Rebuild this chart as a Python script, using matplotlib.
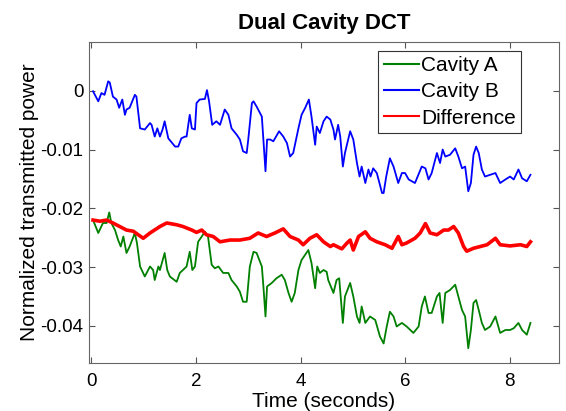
import matplotlib
matplotlib.use('Agg')
import matplotlib.pyplot as plt

plt.rcParams['font.family'] = ['Liberation Sans', 'DejaVu Sans']
plt.rcParams['axes.unicode_minus'] = False

# Cavity A (green)
t_a = [0.03, 0.13, 0.22, 0.29, 0.34, 0.38, 0.45, 0.51, 0.56, 0.61, 0.67, 0.73, 0.83, 0.87,
       0.93, 1.02, 1.12, 1.18, 1.21, 1.28, 1.31, 1.40, 1.45, 1.50, 1.63, 1.69, 1.75, 1.82,
       1.88, 1.93, 1.98, 2.04, 2.11, 2.17, 2.23, 2.30, 2.36, 2.43, 2.52, 2.62, 2.68, 2.78,
       2.84, 2.90, 2.97, 3.03, 3.10, 3.16, 3.26, 3.29, 3.33, 3.36, 3.45, 3.54, 3.64, 3.70,
       3.77, 3.83, 3.89, 3.96, 4.02, 4.15, 4.21, 4.28, 4.32, 4.37, 4.44, 4.50, 4.53, 4.63,
       4.69, 4.74, 4.81, 4.85, 4.95, 5.01, 5.08, 5.13, 5.17, 5.24, 5.33, 5.43, 5.52, 5.59,
       5.65, 5.71, 5.78, 5.84, 5.94, 6.03, 6.16, 6.26, 6.32, 6.38, 6.45, 6.51, 6.61, 6.66,
       6.72, 6.77, 6.86, 6.96, 7.02, 7.09, 7.15, 7.21, 7.26, 7.31, 7.36, 7.41, 7.47, 7.53,
       7.63, 7.73, 7.82, 7.92, 8.01, 8.08, 8.17, 8.24, 8.33, 8.40]
cav_a = [-0.0220, -0.0242, -0.0225, -0.0225, -0.0207, -0.0225, -0.0237, -0.0254, -0.0265,
         -0.0248, -0.0276, -0.0265, -0.0242, -0.0259, -0.0299, -0.0316, -0.0299, -0.0305,
         -0.0322, -0.0299, -0.0305, -0.0276, -0.0305, -0.0316, -0.0325, -0.0310, -0.0305,
         -0.0299, -0.0274, -0.0305, -0.0299, -0.0257, -0.0248, -0.0240, -0.0248, -0.0296,
         -0.0302, -0.0299, -0.0310, -0.0310, -0.0322, -0.0333, -0.0342, -0.0359, -0.0359,
         -0.0299, -0.0274, -0.0276, -0.0299, -0.0333, -0.0384, -0.0333, -0.0327, -0.0319,
         -0.0313, -0.0322, -0.0344, -0.0359, -0.0344, -0.0305, -0.0288, -0.0271, -0.0293,
         -0.0336, -0.0299, -0.0310, -0.0305, -0.0308, -0.0322, -0.0344, -0.0322, -0.0319,
         -0.0395, -0.0350, -0.0327, -0.0350, -0.0384, -0.0395, -0.0367, -0.0395, -0.0384,
         -0.0390, -0.0418, -0.0430, -0.0401, -0.0376, -0.0384, -0.0401, -0.0395, -0.0401,
         -0.0412, -0.0401, -0.0367, -0.0350, -0.0378, -0.0378, -0.0350, -0.0344, -0.0395,
         -0.0344, -0.0339, -0.0330, -0.0350, -0.0373, -0.0384, -0.0438, -0.0407, -0.0361,
         -0.0356, -0.0373, -0.0395, -0.0407, -0.0401, -0.0384, -0.0412, -0.0407, -0.0407,
         -0.0404, -0.0395, -0.0407, -0.0415, -0.0395]

# Cavity B (blue)
t_b = [0.03, 0.13, 0.19, 0.25, 0.32, 0.35, 0.41, 0.48, 0.53, 0.59, 0.64, 0.67, 0.73, 0.83,
       0.86, 0.93, 1.02, 1.12, 1.15, 1.21, 1.26, 1.31, 1.36, 1.40, 1.47, 1.60, 1.66, 1.72,
       1.79, 1.82, 1.88, 1.92, 1.98, 2.01, 2.07, 2.17, 2.21, 2.25, 2.31, 2.39, 2.46, 2.55,
       2.62, 2.68, 2.78, 2.84, 2.90, 2.97, 3.00, 3.07, 3.10, 3.16, 3.26, 3.29, 3.33, 3.36,
       3.42, 3.48, 3.59, 3.67, 3.74, 3.80, 3.86, 3.96, 4.02, 4.09, 4.16, 4.21, 4.28, 4.31,
       4.37, 4.44, 4.50, 4.57, 4.63, 4.66, 4.72, 4.76, 4.81, 4.85, 4.95, 5.01, 5.08, 5.13,
       5.17, 5.24, 5.30, 5.34, 5.39, 5.46, 5.56, 5.59, 5.64, 5.71, 5.78, 5.87, 5.94, 6.00,
       6.07, 6.19, 6.32, 6.39, 6.45, 6.51, 6.61, 6.67, 6.72, 6.77, 6.86, 6.96, 7.02, 7.09,
       7.15, 7.21, 7.26, 7.31, 7.36, 7.41, 7.47, 7.53, 7.63, 7.73, 7.82, 7.92, 8.01, 8.08,
       8.17, 8.24, 8.33, 8.40]
cav_b = [-0.0001, -0.0018, -0.0004, -0.0007, 0.0016, 0.0014, -0.0010, -0.0015, -0.0029,
         -0.0015, -0.0041, -0.0032, -0.0029, -0.0007, -0.0010, -0.0064, -0.0066, -0.0055,
         -0.0058, -0.0078, -0.0064, -0.0078, -0.0066, -0.0052, -0.0081, -0.0095, -0.0095,
         -0.0081, -0.0078, -0.0078, -0.0041, -0.0064, -0.0066, -0.0021, -0.0015, -0.0014,
         0.0001, -0.0018, -0.0058, -0.0052, -0.0058, -0.0032, -0.0041, -0.0064, -0.0075,
         -0.0083, -0.0103, -0.0106, -0.0083, -0.0021, -0.0018, -0.0027, -0.0044, -0.0083,
         -0.0137, -0.0083, -0.0083, -0.0086, -0.0069, -0.0078, -0.0089, -0.0112, -0.0106,
         -0.0064, -0.0041, -0.0029, -0.0015, -0.0044, -0.0092, -0.0061, -0.0072, -0.0052,
         -0.0044, -0.0049, -0.0066, -0.0083, -0.0058, -0.0078, -0.0129, -0.0106, -0.0069,
         -0.0083, -0.0123, -0.0146, -0.0129, -0.0157, -0.0134, -0.0146, -0.0132, -0.0140,
         -0.0174, -0.0174, -0.0146, -0.0115, -0.0129, -0.0157, -0.0140, -0.0140, -0.0151,
         -0.0157, -0.0129, -0.0132, -0.0151, -0.0140, -0.0106, -0.0123, -0.0100, -0.0112,
         -0.0109, -0.0098, -0.0112, -0.0132, -0.0129, -0.0171, -0.0157, -0.0109, -0.0095,
         -0.0106, -0.0134, -0.0146, -0.0143, -0.0140, -0.0157, -0.0151, -0.0146, -0.0151,
         -0.0134, -0.0149, -0.0154, -0.0143]

# Difference (red)
t_d = [0.03, 0.16, 0.29, 0.41, 0.54, 0.67, 0.80, 0.99, 1.12, 1.31, 1.44, 1.63, 1.75, 1.92,
       2.01, 2.11, 2.20, 2.33, 2.46, 2.65, 2.84, 3.03, 3.19, 3.35, 3.51, 3.67, 3.80, 3.96,
       4.05, 4.18, 4.31, 4.44, 4.57, 4.63, 4.79, 4.89, 4.95, 5.01, 5.11, 5.24, 5.33, 5.46,
       5.62, 5.75, 5.87, 5.94, 6.03, 6.19, 6.29, 6.39, 6.48, 6.61, 6.74, 6.83, 6.93, 7.02,
       7.12, 7.18, 7.31, 7.44, 7.57, 7.73, 7.82, 8.01, 8.21, 8.33, 8.40]
diff = [-0.0220, -0.0222, -0.0220, -0.0225, -0.0231, -0.0237, -0.0239, -0.0251, -0.0242,
        -0.0231, -0.0225, -0.0228, -0.0231, -0.0237, -0.0241, -0.0237, -0.0245, -0.0248,
        -0.0257, -0.0254, -0.0254, -0.0251, -0.0242, -0.0248, -0.0242, -0.0235, -0.0248,
        -0.0254, -0.0262, -0.0251, -0.0245, -0.0257, -0.0265, -0.0262, -0.0269, -0.0259,
        -0.0254, -0.0271, -0.0248, -0.0240, -0.0251, -0.0257, -0.0262, -0.0268, -0.0248,
        -0.0262, -0.0259, -0.0251, -0.0242, -0.0226, -0.0242, -0.0245, -0.0237, -0.0237,
        -0.0231, -0.0242, -0.0265, -0.0273, -0.0268, -0.0265, -0.0262, -0.0251, -0.0262,
        -0.0264, -0.0262, -0.0265, -0.0257]

xticks = [0, 2, 4, 6, 8]
yticks = [0, -0.01, -0.02, -0.03, -0.04]
ytick_labels = ['0', '-0.01', '-0.02', '-0.03', '-0.04']

fig = plt.figure(figsize=(5.66, 4.11), dpi=100)
ax = fig.add_axes([0.157, 0.117, 0.831, 0.781])

ax.plot(t_a, cav_a, color=(0, 0.5, 0), lw=1.3, label='Cavity A')
ax.plot(t_b, cav_b, color=(0, 0, 1), lw=1.3, label='Cavity B')
ax.plot(t_d, diff, color=(1, 0, 0), lw=2.6, label='Difference')

ax.set_xlim(-0.05, 8.95)
ax.set_ylim(-0.0463, 0.0083)
ax.set_xticks(xticks)
ax.set_yticks(yticks)
ax.set_yticklabels(ytick_labels)
ax.tick_params(direction='in', top=True, right=True, labelsize=13.5, length=4,
               color='#555555')
ax.tick_params(axis='x', pad=7)
ax.tick_params(axis='y', pad=4)
for s in ax.spines.values():
    s.set_color('#666666')

ax.set_xlabel('Time (seconds)', fontsize=15, labelpad=2)
ax.set_ylabel('Normalized transmitted power', fontsize=15, labelpad=1)
ax.set_title('Dual Cavity DCT', fontsize=16, fontweight='bold', pad=9)

leg = ax.legend(loc='upper right', bbox_to_anchor=(0.919, 0.972), borderaxespad=0,
                fontsize=15, fancybox=False, framealpha=1, edgecolor='#333333',
                handlelength=1.7, handletextpad=0.1, borderpad=0.25, labelspacing=0.35)
leg.get_frame().set_linewidth(0.8)
for line in leg.get_lines():
    line.set_linewidth(1.5)

fig.savefig('out.png', dpi=100)
